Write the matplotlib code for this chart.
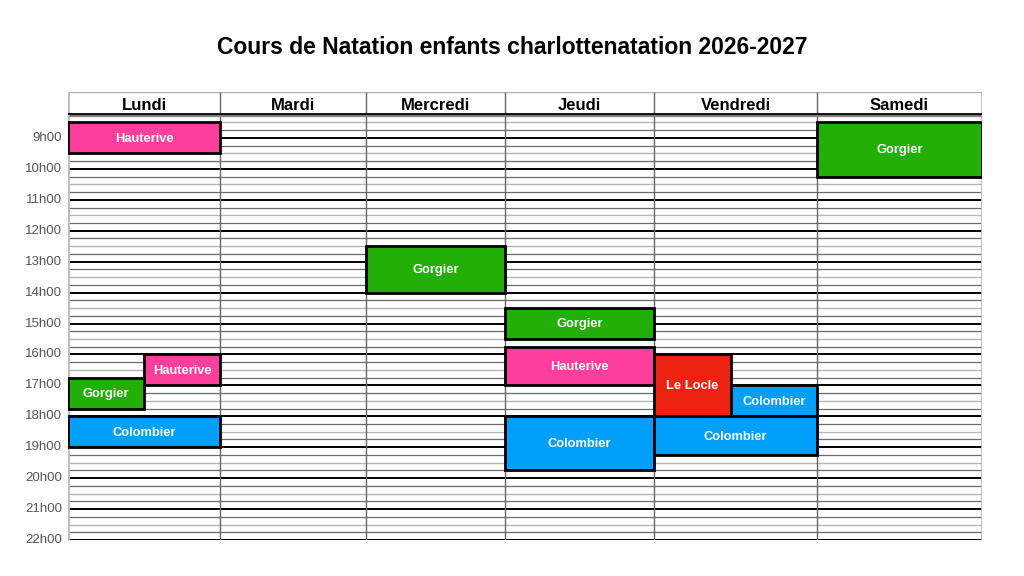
import matplotlib
matplotlib.use("Agg")
import matplotlib.pyplot as plt
from matplotlib.patches import Rectangle

plt.rcParams['font.family'] = ['Liberation Sans', 'DejaVu Sans']

title = "Cours de Natation enfants charlottenatation 2026-2027"
days = ["Lundi", "Mardi", "Mercredi", "Jeudi", "Vendredi", "Samedi"]
hours = list(range(9, 23))
hour_labels = [f"{h}h00" for h in hours]

# events: day index, start hour, end hour, label, lane start/end fraction of column
ev_day = [0, 0, 0, 0, 2, 3, 3, 3, 4, 4, 4, 5]
ev_start = [8.5, 16.0, 16.75, 18.0, 12.5, 14.5, 15.75, 18.0, 16.0, 17.0, 18.0, 8.5]
ev_end = [9.5, 17.0, 17.75, 19.0, 14.0, 15.5, 17.0, 19.75, 18.0, 18.0, 19.25, 10.25]
ev_label = ["Hauterive", "Hauterive", "Gorgier", "Colombier", "Gorgier", "Gorgier",
            "Hauterive", "Colombier", "Le Locle", "Colombier", "Colombier", "Gorgier"]
ev_lane0 = [0, 0.5, 0, 0, 0, 0, 0, 0, 0, 0.47, 0, 0]
ev_lane1 = [1, 1, 0.5, 1, 1, 1, 1, 1, 0.47, 1, 1, 1]

colors = {"Hauterive": "#FF3F9E", "Gorgier": "#22AF08", "Colombier": "#00A0FA",
          "Le Locle": "#EC2213"}

# layout
col_edges = [0, 152, 298, 437, 586, 749, 914]
grid_top = 8.25
header_top = 7.515
grid_bottom = 22

fig = plt.figure(figsize=(10.24, 5.76), dpi=100)
ax = fig.add_axes([68/1024, 36/576, 914/1024, 448/576])
ax.set_xlim(0, 914)
ax.set_ylim(grid_bottom, header_top)
ax.axis('off')

# horizontal grid lines
t = grid_top
while t <= grid_bottom + 1e-9:
    frac = round((t % 1) * 4)
    if frac == 0:
        ax.hlines(t, 0, 914, color="black", lw=1.4, zorder=1)
    elif frac == 2:
        ax.hlines(t, 0, 914, color="#b5b5b5", lw=1.0, zorder=1)
    else:
        ax.hlines(t, 0, 914, color="#6a6a6a", lw=0.9, zorder=1)
    t += 0.25

# header lines
ax.hlines(header_top, 0, 914, color="#b0b0b0", lw=1.0, zorder=1)
ax.hlines(grid_top - 0.02, 0, 914, color="black", lw=1.3, zorder=2)
ax.hlines(grid_top + 0.05, 0, 914, color="#909090", lw=1.0, zorder=2)

# vertical lines
for i, xe in enumerate(col_edges):
    if i in (0, len(col_edges) - 1):
        ax.vlines(xe, header_top, grid_bottom, color="#bbbbbb", lw=2.0, zorder=1)
    else:
        ax.vlines(xe, header_top, grid_bottom, color="#666666", lw=1.0, zorder=1)

# headers
for i, d in enumerate(days):
    xc = (col_edges[i] + col_edges[i+1]) / 2
    ax.text(xc, (header_top + grid_top) / 2 + 0.06, d, ha="center", va="center",
            fontsize=12, fontweight="bold", color="black")

# hour labels
for h, lab in zip(hours, hour_labels):
    ax.text(-6, h, lab, ha="right", va="center", fontsize=9.5, color="#555555")

# events
for d, s, e, lab, l0, l1 in zip(ev_day, ev_start, ev_end, ev_label, ev_lane0, ev_lane1):
    w = col_edges[d+1] - col_edges[d]
    x0 = col_edges[d] + l0 * w
    x1 = col_edges[d] + l1 * w
    ax.add_patch(Rectangle((x0, s), x1 - x0, e - s, facecolor=colors[lab],
                           edgecolor="black", lw=2.0, zorder=3))
    ax.text((x0 + x1) / 2, (s + e) / 2 + 0.03, lab, ha="center", va="center",
            fontsize=9.3, fontweight="bold", color="white", zorder=4)

fig.text(0.5, 1 - 48/576, title, ha="center", va="center", fontsize=16.5,
         fontweight="bold", color="black")

fig.savefig("out.png", dpi=100, facecolor="white")
